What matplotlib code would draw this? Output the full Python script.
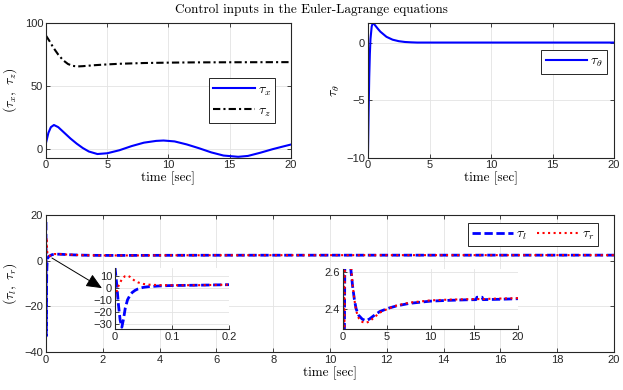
import matplotlib
matplotlib.use('Agg')
from matplotlib import pyplot as plt

# tau_x, tau_z
t_x = [0, 0.2, 0.4, 0.65, 1.0, 1.5, 2.0, 2.5, 3.0, 3.5, 4.2, 5, 6, 7, 8, 9, 9.6,
       10.5, 11.5, 12.5, 13.5, 14.5, 15.7, 16.5, 17.5, 18.5, 19.3, 20]
tau_x = [5, 13, 17.5, 19.2, 17.5, 13, 8.5, 4.5, 1, -1.8, -3.8, -3.2, -0.8, 2.5, 5.2,
         6.6, 6.9, 6.2, 3.8, 0.8, -2.5, -5, -6, -5.3, -2.8, 0, 2, 3.7]
t_z = [0, 0.3, 0.6, 1.0, 1.4, 1.8, 2.2, 2.6, 3, 4, 5, 6, 8, 10, 12, 15, 20]
tau_z = [90, 85.5, 80.5, 75, 70.5, 67.5, 66, 65.6, 65.8, 66.6, 67.2, 67.7, 68.3,
         68.6, 68.8, 68.9, 69.0]

# tau_theta
t_th = [0, 0.05, 0.1, 0.15, 0.2, 0.3, 0.4, 0.5, 0.8, 1.0, 1.5, 2, 2.5, 3, 3.5, 4, 20]
tau_th = [-9.5, -6, -3, -1, 0.3, 1.4, 1.75, 1.6, 1.2, 0.95, 0.5, 0.25, 0.12, 0.05,
          0.02, 0, 0]

# tau_l, tau_r
t_lr = [0, 0.003, 0.006, 0.009, 0.012, 0.015, 0.018, 0.022, 0.026, 0.030, 0.035,
        0.040, 0.045, 0.050, 0.060, 0.080, 0.10, 0.15, 0.20, 0.30, 0.50, 0.70, 0.90,
        1.1, 1.3, 1.5, 1.8, 2.2, 2.6, 3.0, 3.5, 4.2, 5.2, 6.1, 7.6, 10, 12, 14, 15.2,
        15.3, 15.9, 16.0, 17, 18, 20]
tau_l = [17, 3, -14, -27, -33, -26, -17, -10, -6.5, -4, -2.2, -1, -0.2, 0.4, 1.0,
         1.6, 1.9, 2.2, 2.6, 2.9, 2.85, 2.72, 2.61, 2.52, 2.45, 2.40, 2.365, 2.345,
         2.337, 2.345, 2.363, 2.386, 2.404, 2.416, 2.43, 2.442, 2.446, 2.449, 2.45,
         2.463, 2.463, 2.45, 2.451, 2.452, 2.455]
tau_r = [-8, -3, 1.5, 4.5, 7, 8.8, 9.8, 10.2, 9.2, 7.5, 5.8, 4.6, 3.8, 3.2, 2.6,
         2.2, 2.1, 2.2, 2.6, 2.95, 2.9, 2.76, 2.64, 2.53, 2.45, 2.39, 2.35, 2.33,
         2.325, 2.332, 2.352, 2.38, 2.403, 2.418, 2.434, 2.446, 2.45, 2.452, 2.453,
         2.453, 2.453, 2.453, 2.455, 2.456, 2.458]

plt.rcParams['font.family'] = ['Liberation Sans', 'DejaVu Sans']
plt.rcParams['mathtext.fontset'] = 'cm'
plt.rcParams['font.size'] = 8
dark = '#262626'
serif = 'cmr10'


def style(ax, box=True, size=8):
    ax.grid(True, color='#e3e3e3', lw=0.6)
    ax.set_axisbelow(True)
    for s in ax.spines.values():
        s.set_color(dark)
        s.set_linewidth(0.8)
    if not box:
        ax.spines['top'].set_visible(False)
        ax.spines['right'].set_visible(False)
    ax.tick_params(direction='in', length=3, width=0.6, colors=dark,
                   labelsize=size, top=box, right=box, pad=2)


def legend(ax, **kw):
    lg = ax.legend(fancybox=False, framealpha=1, edgecolor=dark, fontsize=10,
                   borderpad=0.3, handlelength=3.0, handletextpad=0.2,
                   borderaxespad=0, **kw)
    lg.get_frame().set_linewidth(0.7)


fig = plt.figure(figsize=(6.23, 3.9), dpi=100)
fig.text(0.5, 0.975, 'Control inputs in the Euler-Lagrange equations',
         ha='center', va='center', fontsize=9.5, family=serif)

ax1 = fig.add_axes([0.0738, 0.596, 0.393, 0.345])
ax1.plot(t_x, tau_x, color='b', lw=1.5, label=r'$\tau_x$')
ax1.plot(t_z, tau_z, color='k', lw=1.5, dashes=(3.5, 1.5, 1, 1.5), label=r'$\tau_z$')
ax1.set_xlim(0, 20)
ax1.set_ylim(-6.6, 100)
ax1.set_xticks([0, 5, 10, 15, 20])
ax1.set_yticks([0, 50, 100])
style(ax1)
ax1.set_xlabel('time [sec]', family=serif, fontsize=9.5, labelpad=1)
ax1.set_ylabel(r'$(\tau_x,\ \tau_z)$', fontsize=10, labelpad=4)
legend(ax1, loc='upper right', bbox_to_anchor=(0.935, 0.59), labelspacing=0.4)

ax2 = fig.add_axes([0.5907, 0.596, 0.3949, 0.345])
ax2.plot(t_th, tau_th, color='b', lw=1.5, label=r'$\tau_\theta$')
ax2.set_xlim(0, 20)
ax2.set_ylim(-10, 1.7)
ax2.set_xticks([0, 5, 10, 15, 20])
ax2.set_yticks([-10, -5, 0])
style(ax2)
ax2.set_xlabel('time [sec]', family=serif, fontsize=9.5, labelpad=1)
ax2.set_ylabel(r'$\tau_\theta$', fontsize=10, labelpad=3)
legend(ax2, loc='upper right', bbox_to_anchor=(0.97, 0.8))

ax3 = fig.add_axes([0.0738, 0.0974, 0.9117, 0.351])
ax3.plot(t_lr, tau_l, color='b', lw=2, dashes=(3, 1.3), label=r'$\tau_l$')
ax3.plot(t_lr, tau_r, color='r', lw=1.5, ls=':', label=r'$\tau_r$')
ax3.set_xlim(0, 20)
ax3.set_ylim(-40, 20)
ax3.set_xticks(range(0, 21, 2))
ax3.set_yticks([-40, -20, 0, 20])
style(ax3)
ax3.set_xlabel('time [sec]', family=serif, fontsize=9.5, labelpad=1)
ax3.set_ylabel(r'$(\tau_l,\ \tau_r)$', fontsize=10, labelpad=4)
legend(ax3, loc='upper right', bbox_to_anchor=(0.972, 0.944), ncol=2,
       columnspacing=0.75)
ax3.annotate('', xy=(1.97, -12), xytext=(0.21, 1.2),
             arrowprops=dict(arrowstyle='-|>,head_length=0.8,head_width=0.35',
                             color='k', lw=0.7, mutation_scale=12,
                             shrinkA=0, shrinkB=0))

in1 = fig.add_axes([0.1846, 0.1564, 0.183, 0.1556])
in1.plot(t_lr, tau_l, color='b', lw=2, dashes=(3, 1.3))
in1.plot(t_lr, tau_r, color='r', lw=1.5, ls=':')
in1.set_xlim(0, 0.2)
in1.set_ylim(-34.5, 16.3)
in1.set_xticks([0, 0.1, 0.2])
in1.set_xticklabels(['0', '0.1', '0.2'])
in1.set_yticks([-30, -20, -10, 0, 10])
style(in1, box=False, size=8)

in2 = fig.add_axes([0.5506, 0.1564, 0.2809, 0.1539])
in2.plot(t_lr, tau_l, color='b', lw=2, dashes=(3, 1.3))
in2.plot(t_lr, tau_r, color='r', lw=1.5, ls=':')
in2.set_xlim(0, 20)
in2.set_ylim(2.292, 2.615)
in2.set_xticks([0, 5, 10, 15, 20])
in2.set_yticks([2.4, 2.6])
style(in2, box=False, size=8)

fig.savefig('out.png', dpi=100)
